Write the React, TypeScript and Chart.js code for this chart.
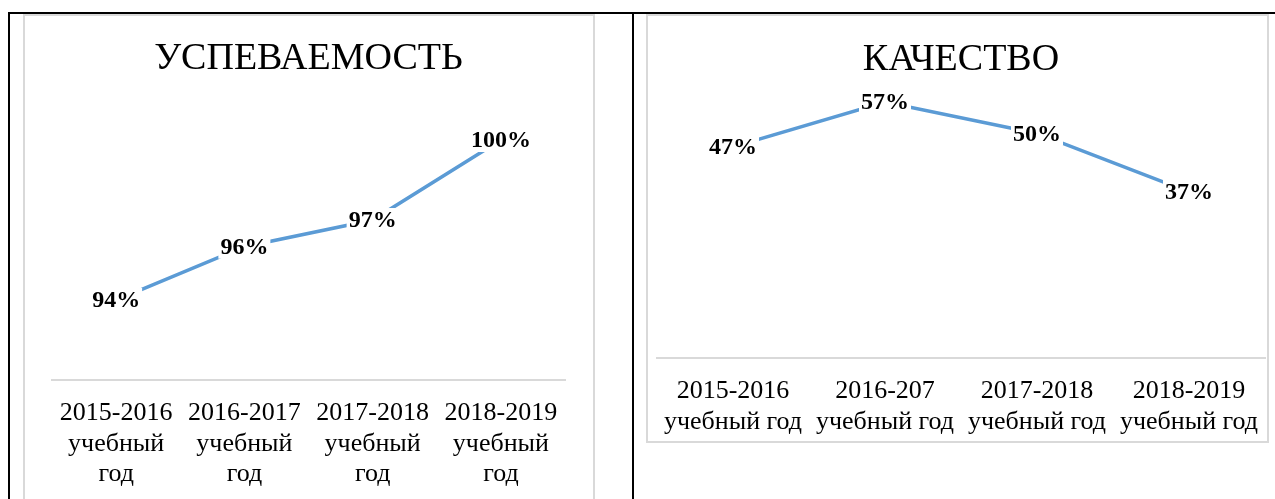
import React, { useEffect, useRef } from "react";
import { Chart, registerables } from "chart.js";

Chart.register(...registerables);

// ---- data ----
const leftTitle = "УСПЕВАЕМОСТЬ";
const leftCategories = [
  ["2015-2016", "учебный", "год"],
  ["2016-2017", "учебный", "год"],
  ["2017-2018", "учебный", "год"],
  ["2018-2019", "учебный", "год"],
];
const leftValues = [94, 96, 97, 100];
const leftAxisMin = 91;
const leftAxisMax = 102;

const rightTitle = "КАЧЕСТВО";
const rightCategories = [
  ["2015-2016", "учебный год"],
  ["2016-207", "учебный год"],
  ["2017-2018", "учебный год"],
  ["2018-2019", "учебный год"],
];
const rightValues = [47, 57, 50, 37];
const rightAxisMin = 0;
const rightAxisMax = 60;

const FONT = '"Liberation Serif", "Times New Roman", serif';
const LINE_COLOR = "#5b9bd5";
const FRAME_COLOR = "#d9d9d9";

const valueLabels = {
  id: "valueLabels",
  afterDatasetsDraw(chart: any) {
    const ctx = chart.ctx;
    chart.data.datasets.forEach((ds: any, i: number) => {
      const meta = chart.getDatasetMeta(i);
      meta.data.forEach((pt: any, j: number) => {
        const text = ds.data[j] + "%";
        ctx.save();
        ctx.font = `bold 24px ${FONT}`;
        const w = ctx.measureText(text).width;
        ctx.fillStyle = "#ffffff";
        ctx.fillRect(pt.x - w / 2 - 2, pt.y - 12, w + 4, 24);
        ctx.fillStyle = "#000000";
        ctx.textAlign = "center";
        ctx.textBaseline = "middle";
        ctx.fillText(text, pt.x, pt.y + 1);
        ctx.restore();
      });
    });
  },
};

type Props = {
  title: string;
  labels: string[][];
  values: number[];
  min: number;
  max: number;
  width: number;
  height: number;
  padding: { left: number; right: number; top: number; bottom: number };
  titlePad: { top: number; bottom: number };
};

function LineChart(p: Props) {
  const ref = useRef<HTMLCanvasElement>(null);
  useEffect(() => {
    if (!ref.current) return;
    const chart = new Chart(ref.current, {
      type: "line",
      data: {
        labels: p.labels,
        datasets: [
          {
            data: p.values,
            borderColor: LINE_COLOR,
            borderWidth: 3.5,
            pointRadius: 0,
            tension: 0,
            fill: false,
            borderCapStyle: "round",
          },
        ],
      },
      options: {
        responsive: false,
        maintainAspectRatio: false,
        animation: false,
        layout: { padding: p.padding },
        plugins: {
          legend: { display: false },
          tooltip: { enabled: false },
          title: {
            display: true,
            text: p.title,
            color: "#000000",
            font: { family: FONT, size: 38, weight: "normal", lineHeight: 1.2 },
            padding: p.titlePad,
          },
        },
        scales: {
          x: {
            offset: true,
            grid: { display: false, drawTicks: false },
            border: { display: true, color: FRAME_COLOR, width: 2 },
            ticks: {
              color: "#000000",
              padding: 18,
              autoSkip: false,
              maxRotation: 0,
              font: { family: FONT, size: 26, lineHeight: 1.173 },
            },
            afterFit: (scale: any) => {
              scale.paddingLeft = 0;
              scale.paddingRight = 0;
            },
          },
          y: { display: false, min: p.min, max: p.max },
        },
      },
      plugins: [valueLabels],
    } as any);
    return () => chart.destroy();
  }, []);
  return (
    <canvas
      ref={ref}
      width={p.width}
      height={p.height}
      style={{ display: "block", width: p.width, height: p.height }}
    />
  );
}

export default function App() {
  return (
    <div
      style={{
        position: "fixed",
        left: 0,
        top: 0,
        width: 1275,
        height: 499,
        overflow: "hidden",
        background: "#ffffff",
      }}
    >
      {/* table lines */}
      <div style={{ position: "absolute", left: 8, top: 12, width: 1267, height: 2, background: "#000" }} />
      <div style={{ position: "absolute", left: 8, top: 12, width: 2, height: 487, background: "#000" }} />
      <div style={{ position: "absolute", left: 632, top: 12, width: 2, height: 487, background: "#000" }} />

      {/* left chart frame */}
      <div
        style={{
          position: "absolute",
          left: 23,
          top: 14,
          width: 572,
          height: 560,
          border: `2px solid ${FRAME_COLOR}`,
          boxSizing: "border-box",
        }}
      />
      <div style={{ position: "absolute", left: 25, top: 16 }}>
        <LineChart
          title={leftTitle}
          labels={leftCategories}
          values={leftValues}
          min={leftAxisMin}
          max={leftAxisMax}
          width={568}
          height={501}
          padding={{ left: 27, right: 28, top: 0, bottom: 9.5 }}
          titlePad={{ top: 20, bottom: 5.1 }}
        />
      </div>

      {/* right chart frame */}
      <div
        style={{
          position: "absolute",
          left: 646,
          top: 14,
          width: 623,
          height: 429,
          border: `2px solid ${FRAME_COLOR}`,
          boxSizing: "border-box",
        }}
      />
      <div style={{ position: "absolute", left: 648, top: 16 }}>
        <LineChart
          title={rightTitle}
          labels={rightCategories}
          values={rightValues}
          min={rightAxisMin}
          max={rightAxisMax}
          width={619}
          height={443}
          padding={{ left: 9, right: 2, top: 0, bottom: 4 }}
          titlePad={{ top: 21.7, bottom: 5.2 }}
        />
      </div>
    </div>
  );
}
